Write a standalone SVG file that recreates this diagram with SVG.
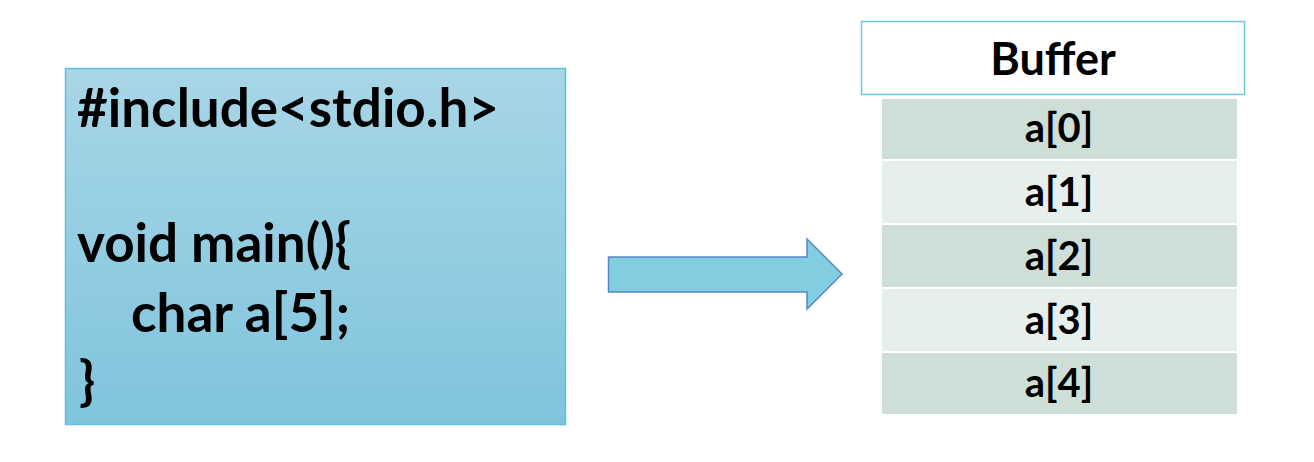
<svg xmlns="http://www.w3.org/2000/svg" width="1314" height="462" viewBox="0 0 1314 462">
<defs>
<linearGradient id="codeGrad" x1="0" y1="0" x2="0" y2="1">
<stop offset="0" stop-color="#a8d6e6"/>
<stop offset="1" stop-color="#7fc4dd"/>
</linearGradient>
<style>
.code{font-family:Lato,"Liberation Sans",sans-serif;font-weight:bold;font-size:53px;fill:#000}
.cell{font-family:Lato,"Liberation Sans",sans-serif;font-weight:bold;font-size:40px;fill:#000;text-anchor:middle}
.title{font-family:Lato,"Liberation Sans",sans-serif;font-weight:bold;font-size:45px;fill:#000;text-anchor:middle}
.dark{fill:#cedfd8}
.light{fill:#e6efec}
</style>
</defs>
<rect width="1314" height="462" fill="#ffffff"/>
<g id="code">
<rect x="65.5" y="68.5" width="500" height="356" fill="url(#codeGrad)" stroke="#5fc0dc" stroke-width="1.5"/>
<text class="code" x="77" y="127">#include&lt;stdio.h&gt;</text>
<text class="code" x="77" y="262">void main(){</text>
<text class="code" x="131" y="332">char a[5];</text>
<text class="code" x="79" y="400">}</text>
</g>
<g id="connectors">
<polygon points="608.5,257 807,257 807,239 842,274 807,309 807,292 608.5,292" fill="#83cde1" stroke="#5b85c6" stroke-width="1.5"/>
</g>
<g id="buffer">
<rect x="861.5" y="21.5" width="383" height="73" fill="#ffffff" stroke="#6cc6df" stroke-width="1.5"/>
<text class="title" x="1053" y="75">Buffer</text>
</g>
<g id="a0">
<rect class="dark" x="882" y="99" width="355" height="60"/>
<text class="cell" x="1059" y="142">a[0]</text>
</g>
<g id="a1">
<rect class="light" x="882" y="161" width="355" height="62"/>
<text class="cell" x="1059" y="206">a[1]</text>
</g>
<g id="a2">
<rect class="dark" x="882" y="225" width="355" height="62"/>
<text class="cell" x="1059" y="270">a[2]</text>
</g>
<g id="a3">
<rect class="light" x="882" y="289" width="355" height="62"/>
<text class="cell" x="1059" y="334">a[3]</text>
</g>
<g id="a4">
<rect class="dark" x="882" y="353" width="355" height="61"/>
<text class="cell" x="1059" y="397">a[4]</text>
</g>
</svg>
